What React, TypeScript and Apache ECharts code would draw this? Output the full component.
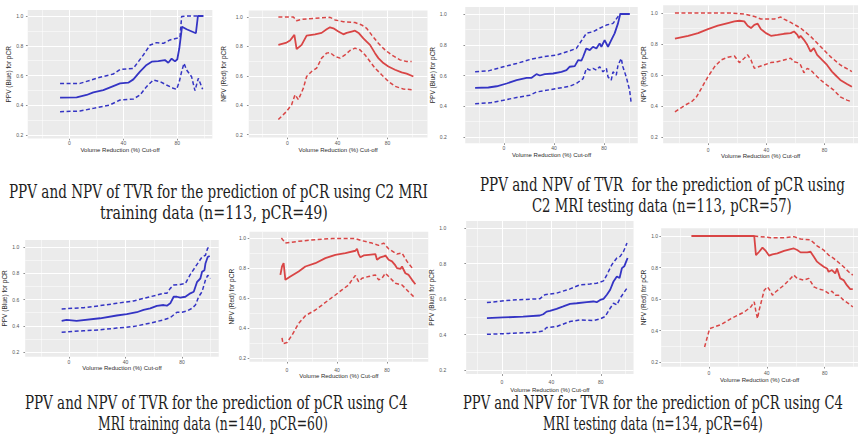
import React, { useEffect, useRef } from "react";
import * as echarts from "echarts";

type Pt = [number, number];

// ---------- axis breaks & titles ----------
const xTicks = [0, 40, 80];
const xMinorBreaks = [-20, 20, 60, 100];
const yTicks = [0.2, 0.4, 0.6, 0.8, 1.0];
const yMinorBreaks = [0.3, 0.5, 0.7, 0.9];

const xAxisTitle = "Volume Reduction (%) Cut-off";
const ppvTitle = "PPV (Blue) for pCR";
const npvTitle = "NPV (Red) for pCR";

// ---------- C2 MRI training (n=113, pCR=49) ----------
const c2TrainPpv: Pt[] = [[-7,0.451],[5.3,0.453],[12.7,0.469],[17.7,0.487],[25.1,0.502],[32.5,0.529],[37.5,0.547],[43.6,0.552],[47.4,0.574],[52.3,0.626],[57.2,0.671],[61,0.693],[65.9,0.697],[70.8,0.704],[73.3,0.686],[75.8,0.713],[78.3,0.695],[80,0.709],[81.5,0.783],[83.5,0.928],[86.9,0.911],[93.8,0.884],[95.3,1.0],[99.3,1.0]];
const c2TrainPpvUpper: Pt[] = [[-7,0.547],[7.8,0.547],[22.6,0.588],[32.5,0.61],[37.5,0.641],[47.4,0.648],[54.8,0.738],[59.8,0.805],[64.7,0.821],[69.7,0.816],[74.6,0.839],[79.5,0.85],[82,0.857],[83.2,0.996],[86.9,1.0],[99.3,1.0]];
const c2TrainPpvLower: Pt[] = [[-7,0.357],[7.8,0.361],[17.7,0.379],[30,0.402],[37.5,0.435],[47.4,0.442],[52.3,0.469],[57.2,0.525],[62.2,0.57],[67.1,0.559],[72,0.536],[77,0.514],[79.5,0.507],[81.5,0.559],[83.2,0.626],[85,0.682],[86.9,0.637],[90.6,0.592],[93.1,0.498],[95.6,0.581],[98.8,0.507]];
const c2TrainNpv: Pt[] = [[-7.3,0.81],[-0.7,0.826],[2,0.84],[5.5,0.878],[7.3,0.781],[11.3,0.81],[15.3,0.873],[22,0.882],[27.3,0.892],[31.3,0.916],[34,0.93],[36.7,0.923],[40.7,0.901],[44.7,0.882],[47.3,0.892],[51.3,0.901],[54,0.907],[57.2,0.889],[60.7,0.855],[63.3,0.833],[66,0.81],[70,0.754],[72.7,0.72],[76.7,0.686],[80.7,0.663],[86,0.641],[91.3,0.623],[95.3,0.614],[100.7,0.595]];
const c2TrainNpvUpper: Pt[] = [[-7.3,1.0],[4.7,1.0],[7.3,0.975],[11.3,0.984],[22,0.991],[34,0.998],[38,0.98],[44.7,0.968],[54,0.962],[59.3,0.946],[63.3,0.923],[67.3,0.878],[72.7,0.821],[78,0.776],[83.3,0.742],[90,0.708],[95.3,0.697],[99.3,0.697]];
const c2TrainNpvLower: Pt[] = [[-7.3,0.302],[-0.7,0.358],[3.3,0.403],[6,0.471],[8.7,0.437],[12.7,0.516],[15.3,0.595],[19.3,0.629],[23.3,0.652],[27.3,0.72],[31.3,0.754],[34,0.758],[38,0.731],[42,0.72],[46,0.742],[50,0.772],[54,0.788],[58,0.776],[62,0.742],[66,0.697],[70,0.652],[75.3,0.607],[80.7,0.562],[86,0.528],[92.7,0.51],[99.3,0.505]];

// ---------- C2 MRI testing (n=113, pCR=57) ----------
const c2TestPpv: Pt[] = [[-23.1,0.52],[-12.5,0.522],[-5.8,0.53],[2.1,0.548],[10.1,0.57],[18.1,0.585],[22.1,0.585],[26,0.609],[28.7,0.6],[32.7,0.609],[39.3,0.613],[46,0.624],[50,0.635],[52.6,0.657],[56.6,0.661],[59.3,0.7],[61.9,0.696],[63.3,0.722],[65.9,0.776],[68.6,0.765],[71.2,0.787],[73.9,0.776],[76.5,0.809],[77.9,0.787],[80.5,0.83],[83.2,0.787],[85.8,0.83],[88.5,0.874],[91.2,0.939],[93,1.0],[100.5,1.0]];
const c2TestPpvUpper: Pt[] = [[-23.1,0.624],[-12.5,0.63],[-0.5,0.657],[10.1,0.678],[20.7,0.704],[31.4,0.722],[42,0.733],[52.6,0.761],[57.9,0.776],[60.6,0.809],[65.9,0.874],[71.2,0.885],[76.5,0.907],[81.9,0.928],[87.2,0.939],[91.2,0.983],[93,1.0],[100.5,1.0]];
const c2TestPpvLower: Pt[] = [[-23.1,0.417],[-11.2,0.422],[-0.5,0.439],[10.1,0.457],[20.7,0.472],[26,0.493],[31.4,0.5],[42,0.515],[52.6,0.53],[57.9,0.548],[63.3,0.58],[65.9,0.646],[68.6,0.635],[71.2,0.646],[73.9,0.635],[76.5,0.657],[79.2,0.624],[81.9,0.646],[83.2,0.591],[85.8,0.57],[87.2,0.624],[89.8,0.602],[91.2,0.667],[93.8,0.711],[95.1,0.657],[97.8,0.591],[100.5,0.504],[101.8,0.417]];
const c2TestNpv: Pt[] = [[-22.9,0.834],[-13.8,0.853],[-7,0.87],[-0.2,0.896],[6.6,0.918],[13.5,0.935],[18,0.946],[21.4,0.95],[24.8,0.946],[27.1,0.918],[29.4,0.903],[31.7,0.924],[34,0.931],[36.2,0.896],[39.7,0.87],[43.1,0.853],[47.6,0.859],[52.1,0.866],[56.7,0.87],[59,0.881],[61.3,0.859],[62.4,0.838],[63.5,0.853],[65.8,0.827],[68.1,0.795],[70.4,0.751],[72.6,0.773],[74.9,0.73],[78.3,0.697],[81.7,0.665],[85.1,0.622],[87.4,0.6],[90.8,0.568],[95.4,0.542],[98.8,0.524]];
const c2TestNpvUpper: Pt[] = [[-22.9,1.0],[15.8,1.0],[24.8,0.993],[31.7,0.978],[36.2,0.961],[45.4,0.961],[49.9,0.974],[52.1,0.961],[56.7,0.939],[63.5,0.903],[70.4,0.849],[77.2,0.784],[84,0.719],[90.8,0.665],[98.8,0.622]];
const c2TestNpvLower: Pt[] = [[-22.9,0.362],[-16,0.405],[-11.5,0.427],[-8.1,0.459],[-4.7,0.514],[-0.2,0.589],[4.4,0.654],[8.9,0.697],[13.5,0.715],[18,0.723],[21.4,0.68],[24.8,0.708],[27.1,0.73],[29.4,0.697],[31.7,0.643],[36.2,0.658],[43.1,0.68],[47.6,0.686],[52.1,0.697],[56.7,0.708],[59,0.686],[61.3,0.68],[63.5,0.665],[65.8,0.615],[68.1,0.643],[70.4,0.632],[72.6,0.611],[77.2,0.568],[81.7,0.535],[86.3,0.503],[90.8,0.459],[95.4,0.438],[98.8,0.427]];

// ---------- C4 MRI training (n=140, pCR=60) ----------
const c4TrainPpv: Pt[] = [[-5.2,0.437],[-1.7,0.445],[5.4,0.437],[22,0.457],[33.8,0.478],[40.9,0.488],[48,0.503],[52.8,0.521],[57.5,0.533],[62.2,0.551],[67,0.558],[69.3,0.553],[71.7,0.571],[74.1,0.621],[76.4,0.621],[78.8,0.614],[82.4,0.621],[85.9,0.647],[88.3,0.659],[90.7,0.735],[93,0.76],[94.2,0.811],[95.9,0.823],[96.6,0.874],[98.2,0.924],[99.6,0.932]];
const c4TrainPpvUpper: Pt[] = [[-5.2,0.528],[10.2,0.538],[22,0.553],[33.8,0.571],[45.7,0.589],[57.5,0.621],[67,0.647],[69.3,0.647],[71.7,0.685],[74.1,0.71],[78.8,0.715],[82.4,0.722],[85.9,0.791],[89.5,0.849],[91.8,0.886],[94.2,0.924],[96.6,0.937],[98.2,0.992],[99.6,1.0]];
const c4TrainPpvLower: Pt[] = [[-5.2,0.351],[10.2,0.362],[22,0.369],[33.8,0.382],[45.7,0.394],[57.5,0.42],[67,0.445],[71.7,0.462],[76.4,0.503],[80,0.503],[83.6,0.513],[87.1,0.533],[89.5,0.558],[91.8,0.621],[94.2,0.659],[96.6,0.748],[98.2,0.785],[100.1,0.76]];
const c4TrainNpv: Pt[] = [[-5.3,0.754],[-4,0.81],[-2.7,0.832],[-1.3,0.721],[2.7,0.743],[9.3,0.777],[14.7,0.81],[22.7,0.832],[30.7,0.866],[38.7,0.888],[46.7,0.899],[54.7,0.915],[56,0.928],[57.3,0.893],[58.7,0.871],[61.3,0.884],[65.3,0.888],[70.7,0.893],[72,0.855],[74.7,0.871],[77.3,0.877],[78.7,0.884],[81.3,0.855],[84,0.844],[86.7,0.817],[88,0.799],[90.7,0.794],[92,0.81],[94.7,0.765],[97.3,0.754],[100,0.721],[102.7,0.692]];
const c4TrainNpvUpper: Pt[] = [[-4.5,1.0],[-1.3,0.966],[9.3,0.978],[22.7,0.989],[36,0.996],[49.3,0.996],[54.7,0.996],[60,0.982],[68,0.966],[73.3,0.951],[77.3,0.966],[81.3,0.928],[88,0.893],[92,0.9],[96,0.844],[101.3,0.788]];
const c4TrainNpvLower: Pt[] = [[-4,0.334],[-3.2,0.296],[0,0.303],[4,0.352],[9.3,0.43],[14.7,0.482],[22.7,0.52],[28,0.553],[33.3,0.587],[38.7,0.62],[44,0.654],[49.3,0.687],[52,0.721],[54.7,0.75],[57.3,0.709],[60,0.732],[65.3,0.743],[70.7,0.754],[73.3,0.721],[76,0.732],[78.7,0.765],[81.3,0.743],[86.7,0.698],[92,0.687],[97.3,0.642],[101.3,0.609]];

// ---------- C4 MRI testing (n=134, pCR=64) ----------
const c4TestPpv: Pt[] = [[-12.2,0.492],[0.8,0.496],[17.1,0.501],[30.6,0.507],[33.4,0.514],[36.1,0.529],[38.8,0.533],[44.2,0.544],[49.6,0.558],[55.1,0.573],[60.5,0.576],[68.6,0.582],[74,0.586],[76.7,0.582],[79.5,0.595],[82.2,0.601],[84.9,0.624],[87.6,0.652],[90.3,0.699],[93,0.727],[95.2,0.718],[97.1,0.774],[99,0.784],[100.6,0.812],[101.7,0.831]];
const c4TestPpvUpper: Pt[] = [[-12.2,0.58],[8.9,0.595],[30.6,0.601],[34.7,0.624],[44.2,0.633],[55.1,0.657],[63.2,0.68],[71.3,0.684],[76.7,0.689],[82.2,0.702],[84.9,0.736],[88.9,0.793],[93,0.831],[95.7,0.84],[98.4,0.868],[101.2,0.915]];
const c4TestPpvLower: Pt[] = [[-12.2,0.401],[8.9,0.407],[27.9,0.413],[33.4,0.42],[36.1,0.439],[44.2,0.445],[55.1,0.473],[63.2,0.482],[74,0.479],[79.5,0.488],[83.5,0.501],[87.6,0.548],[90.3,0.576],[93,0.567],[95.7,0.605],[98.4,0.633],[101.2,0.661]];
const c4TestNpv: Pt[] = [[-12.1,1.0],[31.3,1.0],[32.5,0.879],[34.7,0.9],[37,0.926],[39.3,0.905],[41.6,0.875],[43.9,0.883],[47.3,0.89],[51.9,0.905],[56.5,0.917],[58.7,0.921],[61,0.911],[63.3,0.896],[67.9,0.896],[70.2,0.9],[72.5,0.868],[74.7,0.837],[77,0.82],[79.3,0.805],[81.6,0.794],[82.7,0.773],[85,0.784],[87.3,0.762],[88.5,0.794],[90.7,0.731],[93,0.72],[95.3,0.688],[97.6,0.663],[99.4,0.663]];
const c4TestNpvUpper: Pt[] = [[31.3,1.0],[42.7,0.989],[51.9,0.989],[58.7,0.996],[63.3,0.981],[70.2,0.975],[74.7,0.938],[79.3,0.911],[82.7,0.879],[86.2,0.858],[89.6,0.832],[93,0.805],[96.5,0.773],[99.4,0.752]];
const c4TestNpvLower: Pt[] = [[-3,0.295],[0.5,0.412],[8.5,0.438],[15.3,0.476],[24.5,0.518],[29,0.55],[31.3,0.582],[32.5,0.518],[33.6,0.476],[34.7,0.529],[38.2,0.656],[40.5,0.677],[42.7,0.646],[43.9,0.624],[46.2,0.646],[51.9,0.688],[56.5,0.731],[58.7,0.752],[61,0.731],[65.6,0.72],[69,0.731],[72.5,0.677],[75.9,0.663],[79.3,0.656],[82.7,0.635],[85,0.65],[87.3,0.624],[89.6,0.624],[93,0.593],[96.5,0.571],[99.4,0.55]];

// ---------- captions ----------
const captionLines: string[] = [
  "PPV and NPV of TVR for the prediction of pCR using C2 MRI",
  "training data (n=113, pCR=49)",
  "PPV and NPV of TVR  for the prediction of pCR using",
  "C2 MRI testing data (n=113, pCR=57)",
  "PPV and NPV of TVR for the prediction of pCR using C4",
  "MRI training data (n=140, pCR=60)",
  "PPV and NPV for TVR for the prediction of pCR using C4",
  "MRI testing data (n=134, pCR=64)",
];

// table of the eight small plots (built from the arrays above)
const plots = [
  { kind: "ppv", est: c2TrainPpv, up: c2TrainPpvUpper, lo: c2TrainPpvLower },
  { kind: "npv", est: c2TrainNpv, up: c2TrainNpvUpper, lo: c2TrainNpvLower },
  { kind: "ppv", est: c2TestPpv, up: c2TestPpvUpper, lo: c2TestPpvLower },
  { kind: "npv", est: c2TestNpv, up: c2TestNpvUpper, lo: c2TestNpvLower },
  { kind: "ppv", est: c4TrainPpv, up: c4TrainPpvUpper, lo: c4TrainPpvLower },
  { kind: "npv", est: c4TrainNpv, up: c4TrainNpvUpper, lo: c4TrainNpvLower },
  { kind: "ppv", est: c4TestPpv, up: c4TestPpvUpper, lo: c4TestPpvLower },
  { kind: "npv", est: c4TestNpv, up: c4TestNpvUpper, lo: c4TestNpvLower },
];

// ---------- layout (pixel positions of ticks, per plot) ----------
const layout = [
  { x0: 69.5, x80: 177.3, y10: 16, y02: 135, xmin: -31, xmax: 106, ymin: 0.176, ymax: 1.04, yNameGap: 14.5, yLabelMargin: 4.5, xLabelMargin: 2.3, xNameGap: 7.5 },
  { x0: 287.5, x80: 387.5, y10: 17, y02: 134.5, xmin: -31, xmax: 112, ymin: 0.18, ymax: 1.045, yNameGap: 22, yLabelMargin: 6, xLabelMargin: 3.5, xNameGap: 8.5 },
  { x0: 504, x80: 604, y10: 14, y02: 137, xmin: -31, xmax: 107, ymin: 0.16, ymax: 1.045, yNameGap: 10, yLabelMargin: 18.5, xLabelMargin: 2.5, xNameGap: 5.7 },
  { x0: 708.5, x80: 825.5, y10: 13, y02: 137, xmin: -31, xmax: 103, ymin: 0.16, ymax: 1.05, yNameGap: 12, yLabelMargin: 5.5, xLabelMargin: 3.8, xNameGap: 6.7 },
  { x0: 69, x80: 182, y10: 247, y02: 352, xmin: -31, xmax: 106, ymin: 0.164, ymax: 1.053, yNameGap: 12, yLabelMargin: 5.9, xLabelMargin: 2.5, xNameGap: 8 },
  { x0: 287, x80: 387, y10: 238, y02: 358, xmin: -30, xmax: 113, ymin: 0.175, ymax: 1.042, yNameGap: 11.2, yLabelMargin: 3.5, xLabelMargin: 5.8, xNameGap: 11 },
  { x0: 502, x80: 600.8, y10: 228, y02: 370, xmin: -29, xmax: 106.5, ymin: 0.177, ymax: 1.04, yNameGap: 11.2, yLabelMargin: 20, xLabelMargin: 5.2, xNameGap: 13 },
  { x0: 709, x80: 825, y10: 236, y02: 362, xmin: -33, xmax: 103, ymin: 0.17, ymax: 1.049, yNameGap: 9.6, yLabelMargin: 3, xLabelMargin: 4.1, xNameGap: 10.3 },
];

// caption line boxes: left, right, baseline
const captionBoxes = [
  [9, 428, 198.3], [100, 328, 219.3],
  [480, 845, 191], [532, 792, 212.3],
  [25, 408, 409.3], [98, 328, 430.7],
  [463, 843, 409.3], [543, 763, 430.2],
];

const BLUE = "#3434c4";
const RED = "#d94545";
const CAPTION_FONT = '"DejaVu Serif", "Liberation Serif", serif';
const CAPTION_SIZE = 17;
const AXIS_FONT = '"Liberation Sans", Arial, sans-serif';

function measure(text: string, size: number, family: string): number {
  const c = document.createElement("canvas").getContext("2d");
  if (!c) return text.length * size * 0.5;
  c.font = `${size}px ${family}`;
  return c.measureText(text).width;
}

function buildOption() {
  const grid: any[] = [];
  const xAxis: any[] = [];
  const yAxis: any[] = [];
  const series: any[] = [];

  plots.forEach((p, i) => {
    const L = layout[i];
    const s = (L.x80 - L.x0) / 80;
    const u = (L.y02 - L.y10) / 0.8;
    const left = L.x0 + L.xmin * s;
    const width = (L.xmax - L.xmin) * s;
    const top = L.y10 - (L.ymax - 1) * u;
    const height = (L.ymax - L.ymin) * u;
    grid.push({
      left, top, width, height,
      show: true, backgroundColor: "#EBEBEB", borderWidth: 0, containLabel: false,
    });
    xAxis.push({
      type: "value", gridIndex: i, min: L.xmin, max: L.xmax,
      name: xAxisTitle, nameLocation: "middle", nameGap: L.xNameGap,
      nameTextStyle: { fontSize: 6, color: "#2b2b2b", fontFamily: AXIS_FONT },
      axisLine: { show: false, onZero: false },
      axisTick: { show: true, length: 1.8, customValues: xTicks, lineStyle: { color: "#444", width: 0.6 } },
      axisLabel: { show: true, customValues: xTicks, margin: L.xLabelMargin, fontSize: 5, color: "#555", fontFamily: AXIS_FONT },
      splitLine: { show: false },
    });
    yAxis.push({
      type: "value", gridIndex: i, min: L.ymin, max: L.ymax,
      name: p.kind === "ppv" ? ppvTitle : npvTitle,
      nameLocation: "middle", nameRotate: 90, nameGap: L.yNameGap,
      nameTextStyle: { fontSize: 6.5, color: "#2b2b2b", fontFamily: AXIS_FONT },
      axisLine: { show: false, onZero: false },
      axisTick: { show: true, length: 1.8, customValues: yTicks, lineStyle: { color: "#444", width: 0.6 } },
      axisLabel: {
        show: true, customValues: yTicks, margin: L.yLabelMargin, fontSize: 5, color: "#555", fontFamily: AXIS_FONT,
        formatter: (v: number) => v.toFixed(1),
      },
      splitLine: { show: false },
    });

    const major = { color: "#ffffff", width: 1, type: "solid", opacity: 1 };
    const minor = { color: "#ffffff", width: 0.5, type: "solid", opacity: 1 };
    const lines: any[] = [];
    xTicks.forEach((v) => lines.push({ xAxis: v, lineStyle: major }));
    yTicks.forEach((v) => lines.push({ yAxis: v, lineStyle: major }));
    xMinorBreaks.filter((v) => v > L.xmin && v < L.xmax).forEach((v) => lines.push({ xAxis: v, lineStyle: minor }));
    yMinorBreaks.forEach((v) => lines.push({ yAxis: v, lineStyle: minor }));
    series.push({
      type: "line", xAxisIndex: i, yAxisIndex: i, data: [], z: 1, silent: true,
      markLine: {
        z: 1, silent: true, symbol: ["none", "none"], label: { show: false },
        lineStyle: { color: "#ffffff", type: "solid", width: 1 },
        emphasis: { disabled: true }, animation: false, data: lines,
      },
    });

    const color = p.kind === "ppv" ? BLUE : RED;
    const dashed = { color, width: 1.5, type: [4, 2.5] };
    [p.lo, p.up].forEach((d) => {
      series.push({
        type: "line", xAxisIndex: i, yAxisIndex: i, data: d, z: 6,
        symbol: "none", showSymbol: false, lineStyle: dashed, silent: true,
      });
    });
    series.push({
      type: "line", xAxisIndex: i, yAxisIndex: i, data: p.est, z: 7,
      symbol: "none", showSymbol: false, lineStyle: { color, width: 1.8 }, silent: true,
    });
  });

  const graphic: any[] = captionLines.map((text, k) => {
    const [l, r, base] = captionBoxes[k];
    const w = measure(text, CAPTION_SIZE, CAPTION_FONT);
    return {
      type: "text", x: l, y: base - 0.37 * CAPTION_SIZE,
      scaleX: (r - l) / w, scaleY: 1.05, silent: true,
      style: {
        text, fontSize: CAPTION_SIZE, fontFamily: CAPTION_FONT, fill: "#1e1e1e",
        align: "left", verticalAlign: "middle", textAlign: "left", textVerticalAlign: "middle",
      },
    };
  });

  return {
    animation: false,
    backgroundColor: "#ffffff",
    grid, xAxis, yAxis, series, graphic,
  };
}

export default function App() {
  const ref = useRef<HTMLDivElement>(null);
  useEffect(() => {
    if (!ref.current) return;
    const chart = echarts.init(ref.current, undefined, { renderer: "svg" });
    chart.setOption(buildOption() as any);
    return () => chart.dispose();
  }, []);
  return (
    <div
      ref={ref}
      style={{ position: "fixed", left: 0, top: 0, width: 858, height: 447, background: "#fff" }}
    />
  );
}
